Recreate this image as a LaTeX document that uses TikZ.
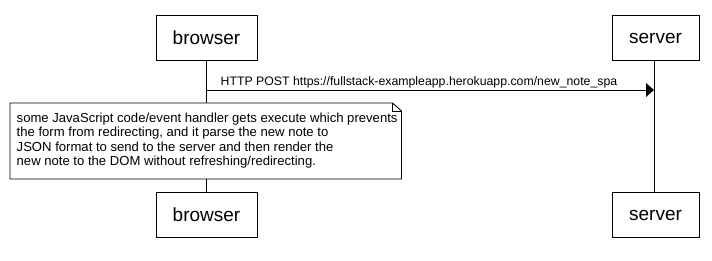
\documentclass[tikz,border=0pt]{standalone}
\usepackage{fontspec}
\setmainfont{Liberation Sans}
\begin{document}
\begin{tikzpicture}[x=1pt,y=-1pt,
  actor/.style={draw,line width=0.9pt,fill=white,minimum width=101pt,minimum height=45pt,inner sep=0pt,font=\fontsize{19}{22}\selectfont},
  lifeline/.style={line width=0.9pt},
  msg/.style={line width=0.9pt},
  notebox/.style={line width=0.9pt,fill=white}]
\useasboundingbox (0,0) rectangle (712,261);
% lifelines
\coordinate (bt) at (206.5,61);
\coordinate (bb) at (206.5,193);
\coordinate (st) at (654,61);
\coordinate (sb) at (654,193);
\draw[lifeline] (bt) -- (bb);
\draw[lifeline] (st) -- (sb);
% participants
\node[actor] (browserTop) at (206.5,38) {browser};
\node[actor,minimum width=87pt] (serverTop) at (655.5,38) {server};
\node[actor] (browserBot) at (206.5,215) {browser};
\node[actor,minimum width=87pt] (serverBot) at (655.5,215) {server};
% message
\coordinate (m1) at (206.5,90);
\coordinate (m2) at (654,90);
\draw[msg] (m1) -- (646,90);
\fill (646,83) -- (m2) -- (646,97) -- cycle;
\node[anchor=base west,inner sep=0pt,font=\fontsize{12.3}{14}\selectfont] (lbl) at (220.5,86) {HTTP POST https://fullstack-exampleapp.herokuapp.com/new\_note\_spa};
% note
\draw[notebox] (10,103) -- (392.5,103) -- (401.5,111) -- (401.5,179) -- (10,179) -- cycle;
\draw[line width=0.7pt] (392.5,103) -- (392.5,111) -- (401.5,111);
\node[anchor=north west,align=left,inner sep=0pt,font=\fontsize{13.1}{14.2}\selectfont] (noteText) at (16.5,113) {some JavaScript code/event handler gets execute which prevents\\the form from redirecting, and it parse the new note to\\JSON format to send to the server and then render the\\new note to the DOM without refreshing/redirecting.};
\end{tikzpicture}
\end{document}
